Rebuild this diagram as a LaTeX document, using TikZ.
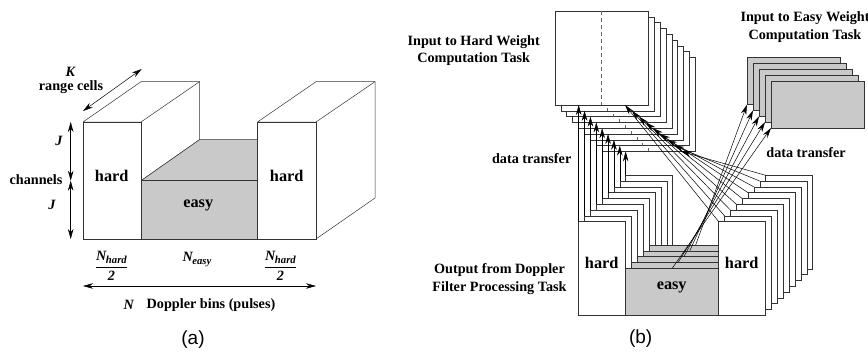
\documentclass[tikz,border=0pt]{standalone}
\usepackage{fontspec}
\setmainfont{Liberation Serif}
\newfontfamily\capfont{Liberation Sans}
\usetikzlibrary{arrows.meta}
\definecolor{halftone}{gray}{0.79}
\tikzstyle{hardbox} = [rectangle, draw=black!80, fill=white, inner sep=0, outer sep=0, anchor=north west, minimum width=47pt, minimum height=93.6pt]
\tikzstyle{easybox} = [rectangle, draw=black!80, fill=halftone, inner sep=0, outer sep=0, anchor=north west, minimum width=93pt, minimum height=47pt]
\tikzstyle{arrow} = [line width=0.5pt,->,>={Stealth[length=10pt,width=5.5pt]}]
\tikzstyle{bothways} = [line width=0.5pt,<->,>={Stealth[length=10pt,width=5.5pt]}]
\tikzstyle{face} = [draw=black!80, line width=0.5pt, line join=round]
\tikzstyle{txt} = [font=\fontsize{14.2pt}{17.5pt}\selectfont\bfseries, align=center, inner sep=0]
\tikzstyle{bigtxt} = [font=\fontsize{16.3pt}{18pt}\selectfont\bfseries, inner sep=0]
\tikzstyle{captxt} = [font=\fontsize{19pt}{21pt}\selectfont\capfont, inner sep=0]
\newcommand{\Nsub}[1]{\textit{N\kern-0.5pt\raisebox{-3pt}{\fontsize{10.7pt}{12pt}\selectfont #1}}}
\newcommand{\halfbins}{$\displaystyle\frac{\mbox{\Nsub{hard}}}{\mbox{\textit{2}}}$}
\begin{document}
\begin{tikzpicture}[x=1pt, y=-1pt, line width=0.5pt]
      \useasboundingbox (0,0) rectangle (868,351);

      % (a)
      \draw [face, fill=white] (83,122) -- (141,81.7) -- (199.5,81.7) -- (199.5,139.7) -- (141,180.7) -- (141,122) -- cycle;
      \draw [face] (141,122) -- (199.5,81.7);
      \draw [face, fill=halftone] (141,180.7) -- (199.5,139.7) -- (257.5,139.7) -- (257.5,180.7) -- cycle;
      \node (easyfront) [easybox, minimum width=116.5pt, minimum height=58.6pt] at (141,180.7) {};
      \node (hardleft) [hardbox, minimum width=58pt, minimum height=117pt] at (83,122) {};
      \draw [face, fill=white] (257.5,122) -- (316,81.7) -- (375,81.7) -- (375,198) -- (316,239) -- (316,122) -- cycle;
      \draw [face] (316,122) -- (375,81.7);
      \node (hardright) [hardbox, minimum width=58.5pt, minimum height=117pt] at (257.5,122) {};

      \node (hardlabela) [bigtxt] at (111.7,175.7) {hard};
      \node (hardlabelb) [bigtxt] at (286.7,175.7) {hard};
      \node (easylabel) [bigtxt] at (198.3,205.7) {easy};

      \node (klabel) [txt] at (70.7,72) {\textit{K}};
      \node (rangelabel) [txt] at (71,87.5) {range cells};
      \coordinate (kstart) at (83,111);
      \coordinate (kend) at (141.7,69);
      \draw [bothways] (kstart) -- (kend);

      \node (jtoplabel) [txt] at (59,141) {\textit{J}};
      \node (jbottomlabel) [txt] at (52,205) {\textit{J}};
      \node (channels) [txt] at (36,180) {channels};
      \coordinate (jtop) at (70.7,122);
      \coordinate (jmid) at (70.7,180.7);
      \coordinate (jbottom) at (70.7,239);
      \draw [bothways] (jtop) -- (jmid);
      \draw [bothways] (jmid) -- (jbottom);

      \node (halfleft) [txt] at (111.5,266) {\halfbins};
      \node (halfright) [txt] at (280.5,266) {\halfbins};
      \node (neasy) [txt] at (197,260) {\Nsub{easy}};
      \coordinate (nleft) at (83,286);
      \coordinate (nright) at (316,286);
      \draw [bothways] (nleft) -- (nright);
      \node (nlabel) [txt] at (129,305) {\textit{N}};
      \node (binslabel) [txt] at (211,305) {Doppler bins (pulses)};
      \node (capa) [captxt] at (193,340) {(a)};

      % (b) input stacks
      \foreach \i in {8,...,0} {
        \node (hardin\i) [hardbox, minimum width=93.3pt, minimum height=94pt] at ({555+5.87*\i},{11+5.8*\i}) {};
        \draw [black!60, dash pattern=on 4pt off 3pt] (hardin\i.north) -- (hardin\i.south);
      }
      \foreach \i in {4,...,0} {
        \node (easyin\i) [easybox, minimum width=93.3pt] at ({771-6*\i},{81-5.85*\i}) {};
      }

      % (b) output stacks
      \foreach \i in {8,...,0} {
        \node (hardl\i) [hardbox] at ({578.7+5.87*\i},{221.7-5.8*\i}) {};
        \node (hardr\i) [hardbox] at ({718.7+5.87*\i},{221.7-5.8*\i}) {};
        \ifnum\i<5
          \node (easyout\i) [easybox] at ({625.7+5.87*\i},{268.3-5.85*\i}) {};
        \fi
      }

      \foreach \i in {0,...,8} {
        \coordinate (tipr\i) at ({625+7*\i},{105+5.8*\i});
        \draw [arrow] (hardl\i.north west) -- (hardl\i.north west |- hardin\i.south);
        \draw [arrow] (hardr\i.north west) -- (tipr\i);
      }
      \foreach \i in {0,...,4} {
        \draw [arrow] (easyout\i.north) -- (easyin\i.south west);
      }

      \node (hardinlabel) [txt] at (473.7,50.5) {Input to Hard Weight\\Computation Task};
      \node (easyinlabel) [txt] at (805,27) {Input to Easy Weight\\Computation Task};
      \node (transferl) [txt] at (531.7,159) {data transfer};
      \node (transferr) [txt] at (806,153) {data transfer};
      \node (outlabel) [txt] at (499.5,279) {Output from Doppler\\Filter Processing Task};
      \node (hardlabelc) [bigtxt] at (601.7,263) {hard};
      \node (hardlabeld) [bigtxt] at (741.7,263) {hard};
      \node (easylabelb) [bigtxt] at (671.7,287) {easy};
      \node (capb) [captxt] at (640.7,339) {(b)};
    \end{tikzpicture}
\end{document}
